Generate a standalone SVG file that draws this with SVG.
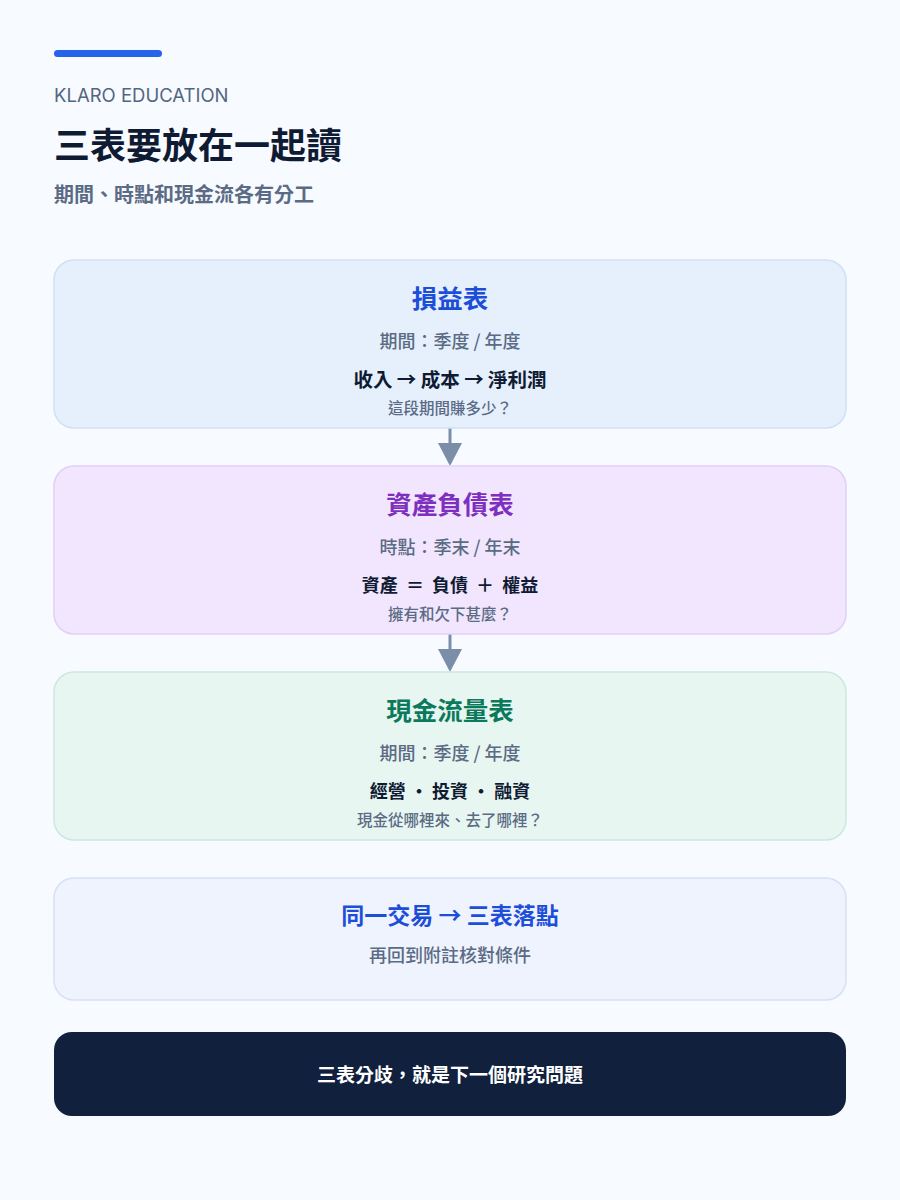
<svg xmlns="http://www.w3.org/2000/svg" width="900" height="1200" viewBox="0 0 900 1200">
<defs>
<style>
text{font-family:"Noto Sans CJK TC","Noto Sans",sans-serif;text-anchor:middle}
.card{stroke-width:1.5}
.h{font-size:25.5px;font-weight:700}
.sub{font-size:18px;font-weight:500;fill:#5b6b84}
.main{font-size:18px;font-weight:700;fill:#0f1b33}
.q{font-size:15.5px;font-weight:500;fill:#5b6b84}
.conn{stroke:#7b8ea9;stroke-width:3;fill:none}
.head{fill:#7b8ea9}
</style>
</defs>
<rect width="900" height="1200" fill="#f7faff"/>
<g id="header">
<rect x="54" y="50" width="108" height="7" rx="3.5" fill="#2563eb"/>
<text x="54" y="102" style="text-anchor:start;font-size:18.5px;fill:#53667f;font-family:'Inter','Liberation Sans',sans-serif">KLARO EDUCATION</text>
<text x="54" y="159" style="text-anchor:start;font-size:36px;font-weight:700;fill:#0f1b33">三表要放在一起讀</text>
<text x="54" y="202" style="text-anchor:start;font-size:20px;font-weight:700;fill:#5b6b84">期間、時點和現金流各有分工</text>
</g>
<g id="connectors">
<line class="conn" x1="450" y1="428" x2="450" y2="446"/>
<path class="head" d="M438 443 L462 443 L450 466 Z"/>
<line class="conn" x1="450" y1="634" x2="450" y2="652"/>
<path class="head" d="M438 649 L462 649 L450 672 Z"/>
</g>
<g id="income">
<rect class="card" x="54" y="260" width="792" height="168" rx="20" fill="#e6f0fd" stroke="#cfdff5"/>
<text class="h" x="450" y="308" fill="#1d4ed8">損益表</text>
<text class="sub" x="450" y="348">期間：季度 / 年度</text>
<text class="main" x="450" y="387" style="font-size:19.5px">收入 → 成本 → 淨利潤</text>
<text class="q" x="450" y="414">這段期間賺多少？</text>
</g>
<g id="balance">
<rect class="card" x="54" y="466" width="792" height="168" rx="20" fill="#f1e6fd" stroke="#e1cff6"/>
<text class="h" x="450" y="514" fill="#7e2fbf">資產負債表</text>
<text class="sub" x="450" y="554">時點：季末 / 年末</text>
<text class="main" x="450" y="592" style="word-spacing:4px">資產 ＝ 負債 ＋ 權益</text>
<text class="q" x="450" y="620">擁有和欠下甚麼？</text>
</g>
<g id="cashflow">
<rect class="card" x="54" y="672" width="792" height="168" rx="20" fill="#e7f6f1" stroke="#cce8de"/>
<text class="h" x="450" y="720" fill="#0b7a5c">現金流量表</text>
<text class="sub" x="450" y="760">期間：季度 / 年度</text>
<text class="main" x="450" y="798">經營 · 投資 · 融資</text>
<text class="q" x="450" y="826">現金從哪裡來、去了哪裡？</text>
</g>
<g id="note">
<rect class="card" x="54" y="878" width="792" height="122" rx="20" fill="#eef3fe" stroke="#d5e1f5"/>
<text x="450" y="924" style="font-size:23px;font-weight:700;fill:#1d4ed8">同一交易 → 三表落點</text>
<text class="sub" x="450" y="962">再回到附註核對條件</text>
</g>
<g id="footer">
<rect x="54" y="1032" width="792" height="84" rx="18" fill="#10203d"/>
<text x="450" y="1082" style="font-size:19px;font-weight:700;fill:#ffffff">三表分歧，就是下一個研究問題</text>
</g>
</svg>
